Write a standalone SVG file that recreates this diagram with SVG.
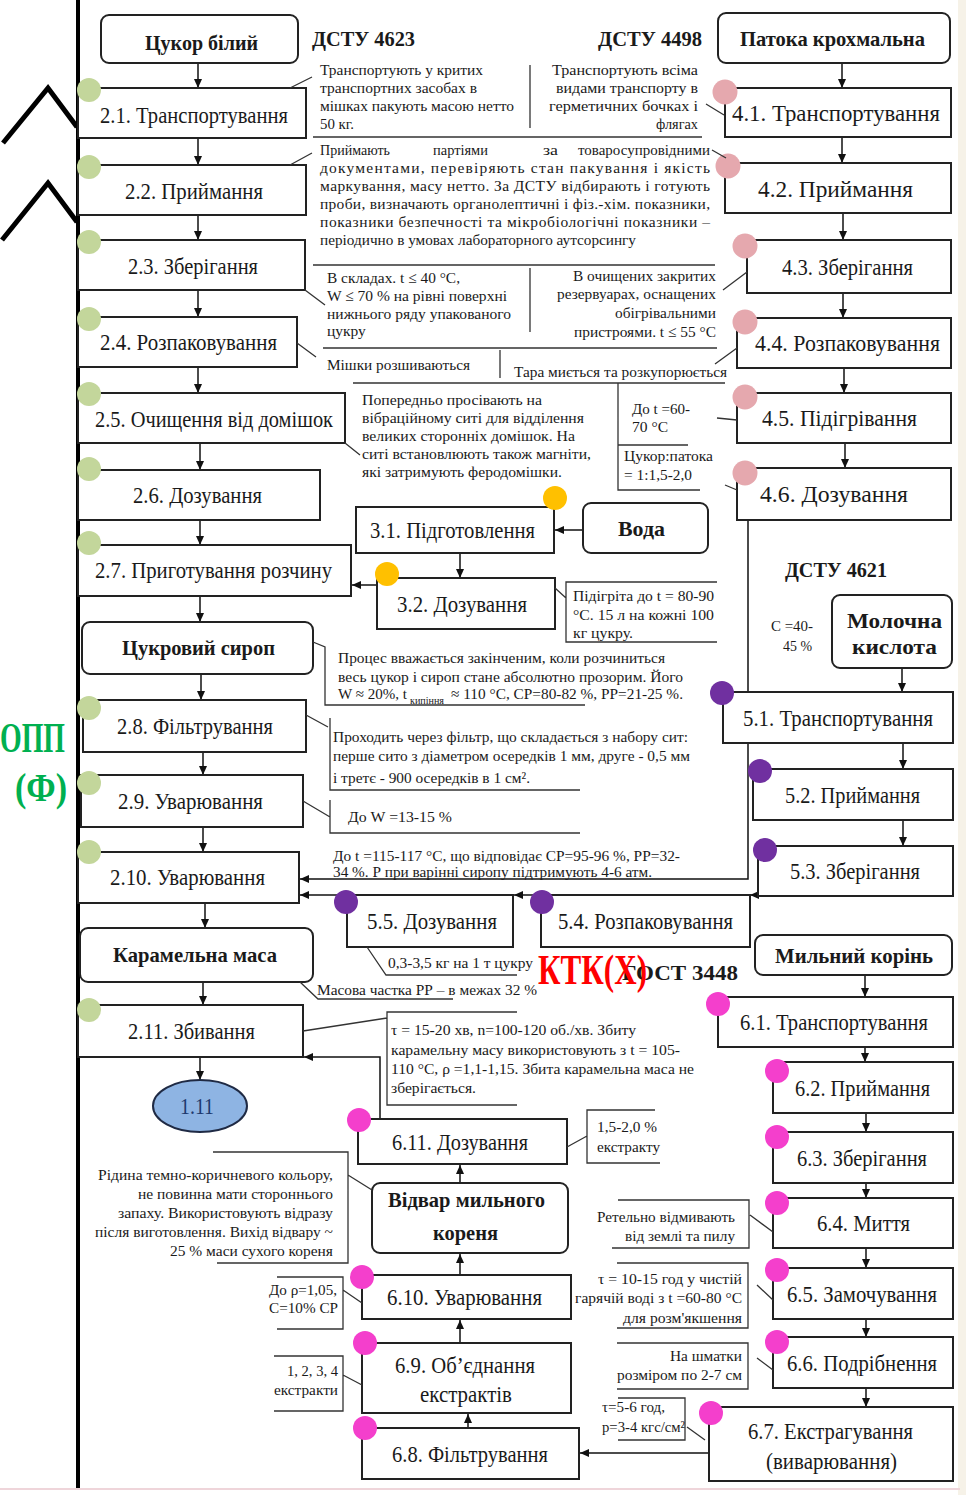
<svg xmlns="http://www.w3.org/2000/svg" width="966" height="1495" viewBox="0 0 966 1495">
<defs>
  <marker id="ah" markerUnits="userSpaceOnUse" markerWidth="9" markerHeight="8" refX="9" refY="4" orient="auto">
    <path d="M0,0 L9,4 L0,8 z" fill="#111"/>
  </marker>
</defs>
<style>
  .box{fill:#fff;stroke:#222;stroke-width:2}
  .lbl{font-family:"Liberation Serif",serif;font-size:24px;fill:#1a1a1a}
  .bl{font-family:"Liberation Serif",serif;font-size:22px;font-weight:bold;fill:#1a1a1a}
  .nt{font-family:"Liberation Serif",serif;font-size:15.5px;fill:#1a1a1a}
  .ln{stroke:#333;stroke-width:1.3;fill:none}
  .cn{stroke:#111;stroke-width:1.5;fill:none;marker-end:url(#ah)}
  .g{fill:#c3d69b}.p{fill:#e5a8ae}.v{fill:#7030a0}.m{fill:#f43fcc}.y{fill:#ffc000}
</style>

<rect width="966" height="1495" fill="#fff"/>
<rect x="958" y="0" width="8" height="1495" fill="#f6f2e8"/>
<line x1="78" y1="0" x2="78" y2="1488" stroke="#000" stroke-width="4"/>
<line x1="0" y1="1489" x2="960" y2="1489" stroke="#efd5da" stroke-width="2"/>

<!-- margin marks -->
<g id="margin" fill="none" stroke="#000" stroke-width="5">
  <polyline points="3,143 48,88 77,127"/>
  <polyline points="2,240 48,183 77,222"/>
</g>
<g id="opp-label" font-family="'Liberation Serif',serif" font-weight="bold" fill="#00b050">
  <text x="0" y="752" font-size="42" textLength="65" lengthAdjust="spacingAndGlyphs">ОПП</text>
  <text x="15" y="801" font-size="40" textLength="52" lengthAdjust="spacingAndGlyphs">(Ф)</text>
</g>

<!-- connectors -->
<g id="connectors">
  <path class="cn" d="M198 63V88"/>
  <path class="cn" d="M198 138V165"/>
  <path class="cn" d="M198 215V240"/>
  <path class="cn" d="M198 290V317"/>
  <path class="cn" d="M198 367V393"/>
  <path class="cn" d="M200 443V470"/>
  <path class="cn" d="M200 520V545"/>
  <path class="cn" d="M200 596V622"/>
  <path class="cn" d="M201 674V700"/>
  <path class="cn" d="M203 752V775"/>
  <path class="cn" d="M203 827V852"/>
  <path class="cn" d="M205 903V928"/>
  <path class="cn" d="M203 982V1005"/>
  <path class="cn" d="M200 1057V1080"/>

  <path class="cn" d="M842 63V88"/>
  <path class="cn" d="M842 137V163"/>
  <path class="cn" d="M843 213V240"/>
  <path class="cn" d="M843 293V318"/>
  <path class="cn" d="M844 368V393"/>
  <path class="cn" d="M845 443V468"/>

  <path class="cn" d="M902 668V692"/>
  <path class="cn" d="M903 743V769"/>
  <path class="cn" d="M903 820V846"/>

  <path class="cn" d="M865 975V997"/>
  <path class="cn" d="M865 1047V1062"/>
  <path class="cn" d="M866 1113V1132"/>
  <path class="cn" d="M866 1183V1198"/>
  <path class="cn" d="M866 1248V1268"/>
  <path class="cn" d="M866 1319V1337"/>
  <path class="cn" d="M866 1388V1407"/>

  <path class="cn" d="M709 1453H580"/>
  <path class="cn" d="M468 1428V1414"/>
  <path class="cn" d="M460 1343V1320"/>
  <path class="cn" d="M460 1275V1254"/>
  <path class="cn" d="M460 1183V1165"/>
  <path class="cn" d="M380 1119V1057H304"/>

  <path class="cn" d="M583 530H555"/>
  <path class="cn" d="M460 553V578"/>
  <path class="cn" d="M377 585H352"/>

  <path class="cn" d="M748 520V879H300"/>
  <path class="cn" d="M758 895H750"/>
  <path class="cn" d="M541 895H514"/>
  <path class="cn" d="M347 895H300"/>
</g>

<!-- sugar line -->
<g id="n-sugar"><rect class="box" x="101" y="15" width="197" height="48" rx="8"/>
  <text class="bl" x="145" y="50" textLength="113" lengthAdjust="spacingAndGlyphs">Цукор білий</text></g>
<g id="n-2-1"><rect class="box" x="78" y="88" width="228" height="50"/>
  <text class="lbl" x="100" y="123" textLength="188" lengthAdjust="spacingAndGlyphs">2.1. Транспортування</text>
  <circle class="g" cx="89" cy="90" r="12"/></g>
<g id="n-2-2"><rect class="box" x="78" y="165" width="228" height="50"/>
  <text class="lbl" x="125" y="199" textLength="138" lengthAdjust="spacingAndGlyphs">2.2. Приймання</text>
  <circle class="g" cx="89" cy="167" r="12"/></g>
<g id="n-2-3"><rect class="box" x="78" y="240" width="227" height="50"/>
  <text class="lbl" x="128" y="274" textLength="130" lengthAdjust="spacingAndGlyphs">2.3. Зберігання</text>
  <circle class="g" cx="89" cy="242" r="12"/></g>
<g id="n-2-4"><rect class="box" x="78" y="317" width="219" height="50"/>
  <text class="lbl" x="100" y="350" textLength="177" lengthAdjust="spacingAndGlyphs">2.4. Розпаковування</text>
  <circle class="g" cx="89" cy="319" r="12"/></g>
<g id="n-2-5"><rect class="box" x="78" y="393" width="267" height="50"/>
  <text class="lbl" x="95" y="427" textLength="238" lengthAdjust="spacingAndGlyphs">2.5. Очищення від домішок</text>
  <circle class="g" cx="89" cy="394" r="12"/></g>
<g id="n-2-6"><rect class="box" x="78" y="470" width="242" height="50"/>
  <text class="lbl" x="133" y="503" textLength="129" lengthAdjust="spacingAndGlyphs">2.6. Дозування</text>
  <circle class="g" cx="89" cy="469" r="12"/></g>
<g id="n-2-7"><rect class="box" x="78" y="545" width="273" height="51"/>
  <text class="lbl" x="95" y="578" textLength="237" lengthAdjust="spacingAndGlyphs">2.7. Приготування розчину</text>
  <circle class="g" cx="89" cy="543" r="12"/></g>
<g id="n-syrup"><rect class="box" x="82" y="622" width="231" height="52" rx="8"/>
  <text class="bl" x="122" y="655" textLength="153" lengthAdjust="spacingAndGlyphs">Цукровий сироп</text></g>
<g id="n-2-8"><rect class="box" x="83" y="700" width="223" height="52"/>
  <text class="lbl" x="117" y="734" textLength="156" lengthAdjust="spacingAndGlyphs">2.8. Фільтрування</text>
  <circle class="g" cx="89" cy="708" r="12"/></g>
<g id="n-2-9"><rect class="box" x="81" y="775" width="222" height="52"/>
  <text class="lbl" x="118" y="809" textLength="145" lengthAdjust="spacingAndGlyphs">2.9. Уварювання</text>
  <circle class="g" cx="89" cy="783" r="12"/></g>
<g id="n-2-10"><rect class="box" x="78" y="852" width="221" height="51"/>
  <text class="lbl" x="110" y="885" textLength="155" lengthAdjust="spacingAndGlyphs">2.10. Уварювання</text>
  <circle class="g" cx="89" cy="852" r="12"/></g>
<g id="n-caramel"><rect class="box" x="80" y="928" width="233" height="54" rx="8"/>
  <text class="bl" x="113" y="962" textLength="164" lengthAdjust="spacingAndGlyphs">Карамельна маса</text></g>
<g id="n-2-11"><rect class="box" x="78" y="1005" width="225" height="52"/>
  <text class="lbl" x="128" y="1039" textLength="127" lengthAdjust="spacingAndGlyphs">2.11. Збивання</text>
  <circle class="g" cx="89" cy="1010" r="12"/></g>
<g id="n-1-11"><ellipse cx="200" cy="1106" rx="47" ry="26" fill="#8eb4e3" stroke="#1f2a44" stroke-width="2"/>
  <text class="lbl" x="180" y="1114" textLength="34" lengthAdjust="spacingAndGlyphs" style="fill:#1f3a6e">1.11</text></g>

<!-- molasses line -->
<g id="n-molasses"><rect class="box" x="718" y="13" width="232" height="50" rx="8"/>
  <text class="bl" x="740" y="46" textLength="185" lengthAdjust="spacingAndGlyphs">Патока крохмальна</text></g>
<g id="n-4-1"><rect class="box" x="725" y="88" width="226" height="49"/>
  <text class="lbl" x="732" y="121" textLength="208" lengthAdjust="spacingAndGlyphs">4.1. Транспортування</text>
  <circle class="p" cx="725" cy="92" r="12.5"/></g>
<g id="n-4-2"><rect class="box" x="725" y="163" width="226" height="50"/>
  <text class="lbl" x="758" y="197" textLength="155" lengthAdjust="spacingAndGlyphs">4.2. Приймання</text>
  <circle class="p" cx="728" cy="166" r="12.5"/></g>
<g id="n-4-3"><rect class="box" x="747" y="240" width="204" height="53"/>
  <text class="lbl" x="782" y="275" textLength="131" lengthAdjust="spacingAndGlyphs">4.3. Зберігання</text>
  <circle class="p" cx="745" cy="246" r="12.5"/></g>
<g id="n-4-4"><rect class="box" x="737" y="318" width="214" height="50"/>
  <text class="lbl" x="755" y="351" textLength="185" lengthAdjust="spacingAndGlyphs">4.4. Розпаковування</text>
  <circle class="p" cx="745" cy="322" r="12.5"/></g>
<g id="n-4-5"><rect class="box" x="737" y="393" width="214" height="50"/>
  <text class="lbl" x="762" y="426" textLength="155" lengthAdjust="spacingAndGlyphs">4.5. Підігрівання</text>
  <circle class="p" cx="745" cy="397" r="12.5"/></g>
<g id="n-4-6"><rect class="box" x="737" y="468" width="214" height="52"/>
  <text class="lbl" x="760" y="502" textLength="148" lengthAdjust="spacingAndGlyphs">4.6. Дозування</text>
  <circle class="p" cx="745" cy="473" r="12.5"/></g>

<!-- water line -->
<g id="n-water"><rect class="box" x="583" y="503" width="125" height="50" rx="8"/>
  <text class="bl" x="618" y="536" textLength="47" lengthAdjust="spacingAndGlyphs">Вода</text></g>
<g id="n-3-1"><rect class="box" x="356" y="507" width="198" height="46"/>
  <text class="lbl" x="370" y="538" textLength="165" lengthAdjust="spacingAndGlyphs">3.1. Підготовлення</text>
  <circle class="y" cx="555" cy="498" r="12"/></g>
<g id="n-3-2"><rect class="box" x="377" y="578" width="178" height="51"/>
  <text class="lbl" x="397" y="612" textLength="130" lengthAdjust="spacingAndGlyphs">3.2. Дозування</text>
  <circle class="y" cx="387" cy="574" r="12"/></g>

<!-- lactic acid line -->
<g id="n-lactic"><rect class="box" x="832" y="595" width="120" height="73" rx="8"/>
  <text class="bl" x="847" y="628" textLength="95" lengthAdjust="spacingAndGlyphs">Молочна</text>
  <text class="bl" x="852" y="654" textLength="85" lengthAdjust="spacingAndGlyphs">кислота</text></g>
<g id="n-5-1"><rect class="box" x="723" y="692" width="230" height="51"/>
  <text class="lbl" x="743" y="726" textLength="190" lengthAdjust="spacingAndGlyphs">5.1. Транспортування</text>
  <circle class="v" cx="722" cy="693" r="12"/></g>
<g id="n-5-2"><rect class="box" x="753" y="769" width="200" height="51"/>
  <text class="lbl" x="785" y="803" textLength="135" lengthAdjust="spacingAndGlyphs">5.2. Приймання</text>
  <circle class="v" cx="760" cy="771" r="12"/></g>
<g id="n-5-3"><rect class="box" x="758" y="846" width="195" height="50"/>
  <text class="lbl" x="790" y="879" textLength="130" lengthAdjust="spacingAndGlyphs">5.3. Зберігання</text>
  <circle class="v" cx="765" cy="850" r="12"/></g>
<g id="n-5-4"><rect class="box" x="541" y="895" width="209" height="52"/>
  <text class="lbl" x="558" y="929" textLength="175" lengthAdjust="spacingAndGlyphs">5.4. Розпаковування</text>
  <circle class="v" cx="542" cy="902" r="12"/></g>
<g id="n-5-5"><rect class="box" x="347" y="895" width="166" height="52"/>
  <text class="lbl" x="367" y="929" textLength="130" lengthAdjust="spacingAndGlyphs">5.5. Дозування</text>
  <circle class="v" cx="346" cy="902" r="12"/></g>

<!-- soapwort line -->
<g id="n-soaproot"><rect class="box" x="755" y="935" width="197" height="40" rx="8"/>
  <text class="bl" x="775" y="963" textLength="158" lengthAdjust="spacingAndGlyphs">Мильний корінь</text></g>
<g id="n-6-1"><rect class="box" x="718" y="997" width="235" height="50"/>
  <text class="lbl" x="740" y="1030" textLength="188" lengthAdjust="spacingAndGlyphs">6.1. Транспортування</text>
  <circle class="m" cx="718" cy="1004" r="12"/></g>
<g id="n-6-2"><rect class="box" x="773" y="1062" width="180" height="51"/>
  <text class="lbl" x="795" y="1096" textLength="135" lengthAdjust="spacingAndGlyphs">6.2. Приймання</text>
  <circle class="m" cx="777" cy="1071" r="12"/></g>
<g id="n-6-3"><rect class="box" x="773" y="1132" width="180" height="51"/>
  <text class="lbl" x="797" y="1166" textLength="130" lengthAdjust="spacingAndGlyphs">6.3. Зберігання</text>
  <circle class="m" cx="777" cy="1137" r="12"/></g>
<g id="n-6-4"><rect class="box" x="773" y="1198" width="180" height="50"/>
  <text class="lbl" x="817" y="1231" textLength="93" lengthAdjust="spacingAndGlyphs">6.4. Миття</text>
  <circle class="m" cx="777" cy="1203" r="12"/></g>
<g id="n-6-5"><rect class="box" x="773" y="1268" width="180" height="51"/>
  <text class="lbl" x="787" y="1302" textLength="150" lengthAdjust="spacingAndGlyphs">6.5. Замочування</text>
  <circle class="m" cx="777" cy="1270" r="12"/></g>
<g id="n-6-6"><rect class="box" x="773" y="1337" width="180" height="51"/>
  <text class="lbl" x="787" y="1371" textLength="150" lengthAdjust="spacingAndGlyphs">6.6. Подрібнення</text>
  <circle class="m" cx="777" cy="1342" r="12"/></g>
<g id="n-6-7"><rect class="box" x="709" y="1407" width="244" height="74"/>
  <text class="lbl" x="748" y="1439" textLength="165" lengthAdjust="spacingAndGlyphs">6.7. Екстрагування</text>
  <text class="lbl" x="766" y="1469" textLength="131" lengthAdjust="spacingAndGlyphs">(виварювання)</text>
  <circle class="m" cx="711" cy="1413" r="12"/></g>
<g id="n-6-8"><rect class="box" x="362" y="1428" width="217" height="51"/>
  <text class="lbl" x="392" y="1462" textLength="156" lengthAdjust="spacingAndGlyphs">6.8. Фільтрування</text>
  <circle class="m" cx="365" cy="1428" r="12"/></g>
<g id="n-6-9"><rect class="box" x="362" y="1343" width="209" height="70"/>
  <text class="lbl" x="395" y="1373" textLength="140" lengthAdjust="spacingAndGlyphs">6.9. Об’єднання</text>
  <text class="lbl" x="420" y="1402" textLength="92" lengthAdjust="spacingAndGlyphs">екстрактів</text>
  <circle class="m" cx="365" cy="1343" r="12"/></g>
<g id="n-6-10"><rect class="box" x="362" y="1275" width="209" height="44"/>
  <text class="lbl" x="387" y="1305" textLength="155" lengthAdjust="spacingAndGlyphs">6.10. Уварювання</text>
  <circle class="m" cx="362" cy="1277" r="12"/></g>
<g id="n-decoction"><rect class="box" x="372" y="1183" width="196" height="70" rx="8"/>
  <text class="bl" x="388" y="1207" textLength="157" lengthAdjust="spacingAndGlyphs">Відвар мильного</text>
  <text class="bl" x="433" y="1240" textLength="65" lengthAdjust="spacingAndGlyphs">кореня</text></g>
<g id="n-6-11"><rect class="box" x="358" y="1119" width="209" height="45"/>
  <text class="lbl" x="392" y="1150" textLength="136" lengthAdjust="spacingAndGlyphs">6.11. Дозування</text>
  <circle class="m" cx="359" cy="1120" r="12"/></g>

<!-- standards -->
<g id="standards">
  <text class="bl" x="312" y="46" textLength="103" lengthAdjust="spacingAndGlyphs">ДСТУ 4623</text>
  <text class="bl" x="598" y="46" textLength="104" lengthAdjust="spacingAndGlyphs">ДСТУ 4498</text>
  <text class="bl" x="785" y="577" textLength="102" lengthAdjust="spacingAndGlyphs">ДСТУ 4621</text>
  <text class="bl" x="622" y="980" textLength="116" lengthAdjust="spacingAndGlyphs">ГОСТ 3448</text>
  <text x="538" y="984" font-family="'Liberation Serif',serif" font-weight="bold" font-size="42" fill="#ff0000" textLength="109" lengthAdjust="spacingAndGlyphs">КТК(Х)</text>
</g>

<!-- annotation frames and leaders -->
<g id="note-lines">
  <path class="ln" d="M290 88L312 77M290 165L312 153M313 137H702M530 65V128M724 115L706 104M726 158L712 150"/>
  <path class="ln" d="M313 265H715M305 290L325 305M530 268V332M747 272L723 290"/>
  <path class="ln" d="M323 348H717M297 343L316 357M500 350V378M737 348L715 364M353 383H725M345 443L360 455"/>
  <path class="ln" d="M618 383V490H700M618 445H688M737 420L717 418M737 490L725 485"/>
  <path class="ln" d="M555 588L566 598M717 582H566V642H717"/>
  <path class="ln" d="M313 642L325 647V705H585"/>
  <path class="ln" d="M306 715L328 727M330 718V790H580M303 801L330 817M330 800V833H580"/>
  <path class="ln" d="M367 947L386 975H517M300 982L318 999H453"/>
  <path class="ln" d="M303 1031L387 1018M517 1012H387V1105H517"/>
  <path class="ln" d="M213 1152H348V1263H217M348 1175L372 1190"/>
  <path class="ln" d="M655 1110H587V1163H660M567 1147L587 1136"/>
  <path class="ln" d="M618 1200H749V1248H612M750 1215L773 1232"/>
  <path class="ln" d="M617 1263H748V1328H617M757 1285L773 1300"/>
  <path class="ln" d="M617 1343H748V1389H617M757 1358L773 1370"/>
  <path class="ln" d="M618 1398H685V1440H618M687 1427L705 1440"/>
  <path class="ln" d="M277 1277H343V1329H277M343 1290L362 1303"/>
  <path class="ln" d="M274 1356H343V1411H274M343 1375L362 1385"/>
</g>

<!-- annotation texts -->
<g id="notes" class="nt">
  <text x="320" y="75" textLength="163" lengthAdjust="spacingAndGlyphs">Транспортують у критих</text>
  <text x="320" y="93" textLength="157" lengthAdjust="spacingAndGlyphs">транспортних засобах в</text>
  <text x="320" y="111" textLength="194" lengthAdjust="spacingAndGlyphs">мішках пакують масою нетто</text>
  <text x="320" y="129" textLength="34" lengthAdjust="spacingAndGlyphs">50 кг.</text>

  <text x="552" y="75" textLength="146" lengthAdjust="spacingAndGlyphs">Транспортують всіма</text>
  <text x="556" y="93" textLength="142" lengthAdjust="spacingAndGlyphs">видами транспорту в</text>
  <text x="549" y="111" textLength="149" lengthAdjust="spacingAndGlyphs">герметичних бочках і</text>
  <text x="656" y="129" textLength="42" lengthAdjust="spacingAndGlyphs">флягах</text>

  <text x="320" y="155" textLength="70" lengthAdjust="spacingAndGlyphs">Приймають</text>
  <text x="433" y="155" textLength="55" lengthAdjust="spacingAndGlyphs">партіями</text>
  <text x="543" y="155" textLength="15" lengthAdjust="spacingAndGlyphs">за</text>
  <text x="578" y="155" textLength="132" lengthAdjust="spacingAndGlyphs">товаросупровідними</text>
  <text x="320" y="173" textLength="390" lengthAdjust="spacing">документами, перевіряють стан пакування і якість</text>
  <text x="320" y="191" textLength="390" lengthAdjust="spacing">маркування, масу нетто. За ДСТУ відбирають і готують</text>
  <text x="320" y="209" textLength="390" lengthAdjust="spacing">проби, визначають органолептичні і фіз.-хім. показники,</text>
  <text x="320" y="227" textLength="390" lengthAdjust="spacing">показники безпечності та мікробіологічні показники –</text>
  <text x="320" y="245" textLength="316" lengthAdjust="spacingAndGlyphs">періодично в умовах лабораторного аутсорсингу</text>

  <text x="327" y="283" textLength="133" lengthAdjust="spacingAndGlyphs">В складах. t ≤ 40 °C,</text>
  <text x="327" y="301" textLength="180" lengthAdjust="spacingAndGlyphs">W ≤ 70 % на рівні поверхні</text>
  <text x="327" y="319" textLength="184" lengthAdjust="spacingAndGlyphs">нижнього ряду упакованого</text>
  <text x="327" y="336">цукру</text>

  <text x="573" y="281" textLength="143" lengthAdjust="spacingAndGlyphs">В очищених закритих</text>
  <text x="557" y="299" textLength="159" lengthAdjust="spacingAndGlyphs">резервуарах, оснащених</text>
  <text x="615" y="318" textLength="101" lengthAdjust="spacingAndGlyphs">обігрівальними</text>
  <text x="574" y="337" textLength="142" lengthAdjust="spacingAndGlyphs">пристроями. t ≤ 55 °C</text>

  <text x="327" y="370" textLength="143" lengthAdjust="spacingAndGlyphs">Мішки розшиваються</text>
  <text x="514" y="377" textLength="213" lengthAdjust="spacingAndGlyphs">Тара миється та розкупорюється</text>

  <text x="362" y="405" textLength="180" lengthAdjust="spacingAndGlyphs">Попередньо просівають на</text>
  <text x="362" y="423" textLength="222" lengthAdjust="spacingAndGlyphs">вібраційному ситі для відділення</text>
  <text x="362" y="441" textLength="213" lengthAdjust="spacingAndGlyphs">великих сторонніх домішок. На</text>
  <text x="362" y="459" textLength="229" lengthAdjust="spacingAndGlyphs">ситі встановлюють також магніти,</text>
  <text x="362" y="477" textLength="200" lengthAdjust="spacingAndGlyphs">які затримують феродомішки.</text>

  <text x="632" y="414" textLength="58" lengthAdjust="spacingAndGlyphs">До t =60-</text>
  <text x="632" y="432" textLength="36" lengthAdjust="spacingAndGlyphs">70 °C</text>
  <text x="624" y="461" textLength="89" lengthAdjust="spacingAndGlyphs">Цукор:патока</text>
  <text x="624" y="480" textLength="68" lengthAdjust="spacingAndGlyphs">= 1:1,5-2,0</text>

  <text x="573" y="601" textLength="141" lengthAdjust="spacingAndGlyphs">Підігріта до t = 80-90</text>
  <text x="573" y="620" textLength="141" lengthAdjust="spacingAndGlyphs">°C. 15 л на кожні 100</text>
  <text x="573" y="638" textLength="60" lengthAdjust="spacingAndGlyphs">кг цукру.</text>

  <text x="771" y="631" textLength="42" lengthAdjust="spacingAndGlyphs">С =40-</text>
  <text x="783" y="651" textLength="29" lengthAdjust="spacingAndGlyphs">45 %</text>

  <text x="338" y="663" textLength="327" lengthAdjust="spacingAndGlyphs">Процес вважається закінченим, коли розчиниться</text>
  <text x="338" y="682" textLength="345" lengthAdjust="spacingAndGlyphs">весь цукор і сироп стане абсолютно прозорим. Його</text>
  <text x="338" y="699" textLength="69" lengthAdjust="spacingAndGlyphs">W ≈ 20%, t</text>
  <text x="410" y="704" font-size="10" textLength="34" lengthAdjust="spacingAndGlyphs">кипіння</text>
  <text x="451" y="699" textLength="232" lengthAdjust="spacingAndGlyphs">≈ 110 °C, СР=80-82 %, РР=21-25 %.</text>

  <text x="333" y="742" textLength="355" lengthAdjust="spacingAndGlyphs">Проходить через фільтр, що складається з набору сит:</text>
  <text x="333" y="761" textLength="357" lengthAdjust="spacingAndGlyphs">перше сито з діаметром осередків 1 мм, друге - 0,5 мм</text>
  <text x="333" y="783" textLength="197" lengthAdjust="spacingAndGlyphs">і третє - 900 осередків в 1 см².</text>

  <text x="348" y="822" textLength="104" lengthAdjust="spacingAndGlyphs">До W =13-15 %</text>

  <text x="333" y="861" textLength="347" lengthAdjust="spacingAndGlyphs">До t =115-117 °C, що відповідає СР=95-96 %, РР=32-</text>
  <text x="333" y="877" textLength="319" lengthAdjust="spacingAndGlyphs">34 %. Р при варінні сиропу підтримують 4-6 атм.</text>

  <text x="388" y="968" textLength="145" lengthAdjust="spacingAndGlyphs">0,3-3,5 кг на 1 т цукру</text>
  <text x="317" y="995" textLength="220" lengthAdjust="spacingAndGlyphs">Масова частка РР – в межах 32 %</text>

  <text x="391" y="1035" textLength="245" lengthAdjust="spacingAndGlyphs">τ = 15-20 хв, n=100-120 об./хв. Збиту</text>
  <text x="391" y="1055" textLength="289" lengthAdjust="spacingAndGlyphs">карамельну масу використовують з t = 105-</text>
  <text x="391" y="1074" textLength="303" lengthAdjust="spacingAndGlyphs">110 °C, ρ =1,1-1,15. Збита карамельна маса не</text>
  <text x="391" y="1093" textLength="85" lengthAdjust="spacingAndGlyphs">зберігається.</text>

  <text x="98" y="1180" textLength="235" lengthAdjust="spacingAndGlyphs">Рідина темно-коричневого кольору,</text>
  <text x="138" y="1199" textLength="195" lengthAdjust="spacingAndGlyphs">не повинна мати стороннього</text>
  <text x="118" y="1218" textLength="215" lengthAdjust="spacingAndGlyphs">запаху. Використовують відразу</text>
  <text x="95" y="1237" textLength="238" lengthAdjust="spacingAndGlyphs">після виготовлення. Вихід відвару ~</text>
  <text x="170" y="1256" textLength="163" lengthAdjust="spacingAndGlyphs">25 % маси сухого кореня</text>

  <text x="597" y="1132" textLength="60" lengthAdjust="spacingAndGlyphs">1,5-2,0 %</text>
  <text x="597" y="1152" textLength="63" lengthAdjust="spacingAndGlyphs">екстракту</text>

  <text x="597" y="1222" textLength="138" lengthAdjust="spacingAndGlyphs">Ретельно відмивають</text>
  <text x="625" y="1241" textLength="110" lengthAdjust="spacingAndGlyphs">від землі та пилу</text>

  <text x="598" y="1284" textLength="144" lengthAdjust="spacingAndGlyphs">τ = 10-15 год у чистій</text>
  <text x="575" y="1303" textLength="167" lengthAdjust="spacingAndGlyphs">гарячій воді з t =60-80 °C</text>
  <text x="623" y="1323" textLength="119" lengthAdjust="spacingAndGlyphs">для розм'якшення</text>

  <text x="670" y="1361" textLength="72" lengthAdjust="spacingAndGlyphs">На шматки</text>
  <text x="617" y="1380" textLength="125" lengthAdjust="spacingAndGlyphs">розміром по 2-7 см</text>

  <text x="602" y="1412" textLength="63" lengthAdjust="spacingAndGlyphs">τ=5-6 год,</text>
  <text x="602" y="1432" textLength="83" lengthAdjust="spacingAndGlyphs">р=3-4 кгс/см²</text>

  <text x="269" y="1295" textLength="68" lengthAdjust="spacingAndGlyphs">До ρ=1,05,</text>
  <text x="269" y="1313" textLength="69" lengthAdjust="spacingAndGlyphs">С=10% СР</text>

  <text x="287" y="1376" textLength="51" lengthAdjust="spacingAndGlyphs">1, 2, 3, 4</text>
  <text x="274" y="1395" textLength="64" lengthAdjust="spacingAndGlyphs">екстракти</text>
</g>
</svg>
